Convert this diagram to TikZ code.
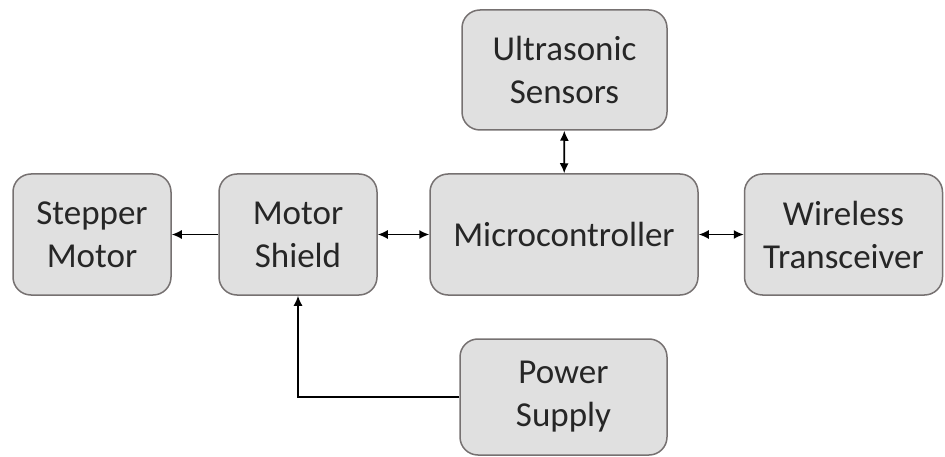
\documentclass[tikz,border=0pt]{standalone}
\usepackage{fontspec}
\setmainfont{Carlito}
\usetikzlibrary{arrows.meta}

\definecolor{boxfill}{HTML}{E0E0E0}
\definecolor{boxline}{HTML}{767171}
\definecolor{boxtext}{HTML}{262626}

\tikzset{
  block/.style={draw=boxline, fill=boxfill, line width=1.5pt, rounded corners=18pt,
    align=center, inner sep=0pt, text=boxtext, font=\fontsize{35}{43}\selectfont},
  link/.style={line width=1.6pt, -{Latex[length=10pt,width=9pt]}},
  dlink/.style={line width=1.6pt, {Latex[length=10pt,width=9pt]}-{Latex[length=10pt,width=9pt]}}
}

\begin{document}
\begin{tikzpicture}[x=1pt,y=-1pt]
\useasboundingbox (0,0) rectangle (945,457);

\node[block, minimum width=158pt, minimum height=121pt] (stepper) at (92,234.5) {Stepper\\Motor};
\node[block, minimum width=158pt, minimum height=121pt] (shield) at (298,234.5) {Motor\\Shield};
\node[block, minimum width=268pt, minimum height=121pt] (micro) at (564,234.5) {Microcontroller};
\node[block, minimum width=198pt, minimum height=121pt] (wireless) at (843.5,234.5) {Wireless\\Transceiver};
\node[block, minimum width=205pt, minimum height=120pt] (ultra) at (564.5,70) {Ultrasonic\\Sensors};
\node[block, minimum width=207pt, minimum height=116pt] (power) at (563.5,397) {Power\\Supply};

\draw[link] (shield) -- (stepper);
\draw[dlink] (shield) -- (micro);
\draw[dlink] (micro) -- (ultra);
\draw[dlink] (micro) -- (wireless);
\draw[link] (power.west) -| (shield.south);
\end{tikzpicture}
\end{document}
